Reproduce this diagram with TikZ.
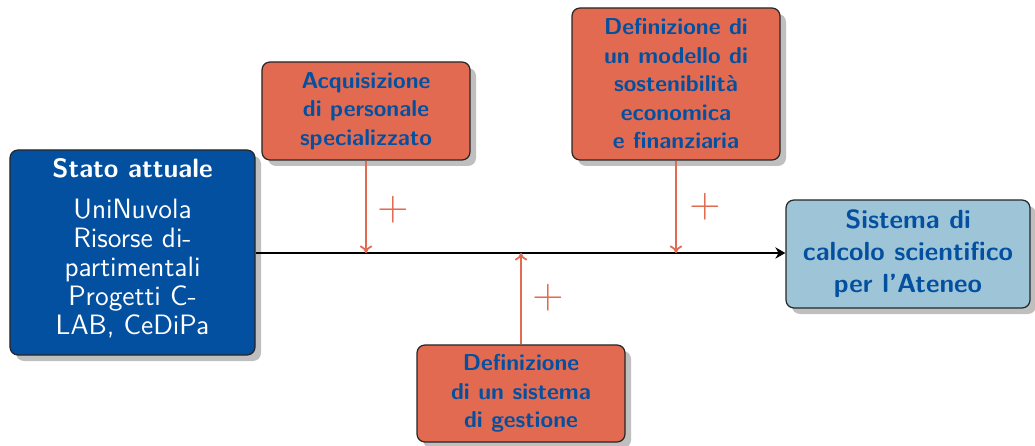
\documentclass[tikz,border=0pt]{standalone}
\usepackage{fontspec}
\usetikzlibrary{arrows.meta,shadows}
\definecolor{dblue}{RGB}{3,80,160}
\definecolor{orng}{RGB}{226,106,80}
\definecolor{lblue}{RGB}{158,196,216}
\tikzset{
  box/.style={draw=black!85, line width=0.5pt, rounded corners=3.2pt, align=center,
    inner sep=1pt,
    drop shadow={shadow xshift=2.4pt, shadow yshift=-2.4pt, fill=black!25, opacity=1}},
  actbox/.style={box, fill=orng, text=dblue, font=\sffamily\bfseries\fontsize{9.2}{11.4}\selectfont,
    minimum width=83.2pt},
  plussign/.style={text=orng, font=\fontsize{19}{19}\selectfont},
  feed/.style={draw=orng, line width=0.7pt, -{To[length=3pt,width=5pt]}},
}
\begin{document}
\begin{tikzpicture}[x=0.4pt,y=-0.4pt]
\useasboundingbox (0,0) rectangle (1035,446);
\node[box, fill=dblue, minimum width=98pt, minimum height=82pt] (now) at (132.5,252.5) {};
\node[align=center, text=white, font=\sffamily\fontsize{11.2}{11.6}\selectfont, inner sep=0pt] (nowtext) at (132.5,248.5)
  {{\bfseries\fontsize{10.6}{11.6}\selectfont Stato attuale}\\[5pt] UniNuvola\\Risorse di-\\partimentali\\Progetti C-\\LAB, CeDiPa};
\node[box, fill=lblue, text=dblue, font=\sffamily\bfseries\fontsize{10.5}{12.8}\selectfont,
  minimum width=97.6pt, minimum height=43.2pt] (goal) at (908,254)
  {Sistema di\\calcolo scientifico\\per l'Ateneo};
\node[actbox, minimum height=39.2pt] (acq) at (366,111)
  {Acquisizione\\di personale\\specializzato};
\node[actbox, minimum height=60.8pt] (mod) at (676,84)
  {Definizione di\\un modello di\\sostenibilità\\economica\\e finanziaria};
\node[actbox, minimum height=38.8pt] (ges) at (521,393.5)
  {Definizione\\di un sistema\\di gestione};
\draw[line width=0.9pt, -{Stealth[length=4pt,width=4.5pt]}] (now.east |- 0,253) -- (goal.west |- 0,253);
\coordinate (pa) at (366,253);
\coordinate (pm) at (676,253);
\coordinate (pg) at (521,253);
\draw[feed] (acq.south) -- (pa);
\draw[feed] (mod.south) -- (pm);
\draw[feed] (ges.north) -- (pg);
\node[plussign] (p1) at (393,210) {$+$};
\node[plussign] (p2) at (705,207) {$+$};
\node[plussign] (p3) at (548,298) {$+$};
\end{tikzpicture}
\end{document}
